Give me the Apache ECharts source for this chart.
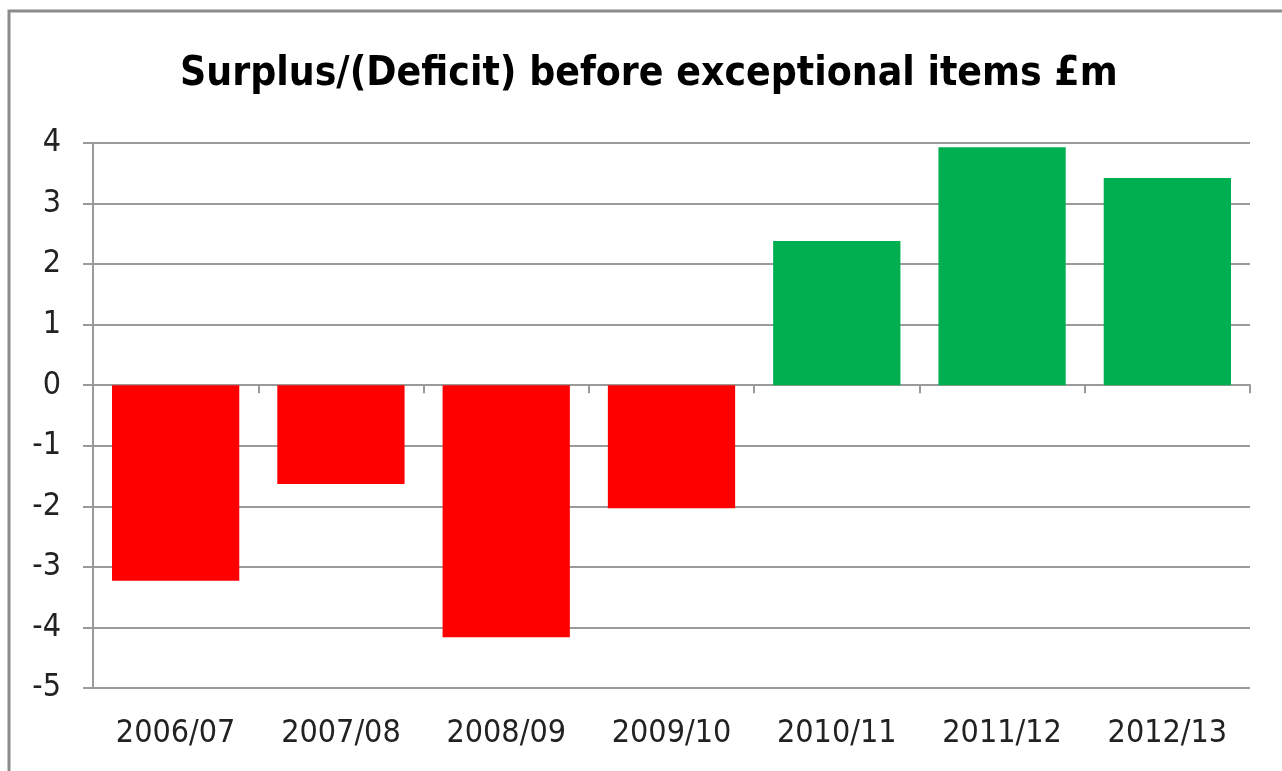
<!DOCTYPE html>
<html><head><meta charset="utf-8">
<script src="https://cdn.jsdelivr.net/npm/echarts@6/dist/echarts.min.js"></script>
<style>html,body{margin:0;padding:0;background:#fff}#c{width:1282px;height:771px}</style>
</head><body><div id="c"></div>
<script>
const titleText = 'Surplus/(Deficit) before exceptional items £m';
const categories = ['2006/07','2007/08','2008/09','2009/10','2010/11','2011/12','2012/13'];
const values = [-3.23, -1.63, -4.16, -2.03, 2.38, 3.93, 3.42];
const yMin = -5, yMax = 4, yStep = 1;
const posColor = '#00B050', negColor = '#FF0000';
const FONT = '"DejaVu Sans Condensed","DejaVu Sans",sans-serif';

const chart = echarts.init(document.getElementById('c'), null, {renderer:'canvas'});
chart.setOption({
  animation:false,
  backgroundColor:'#fff',
  graphic:[{type:'rect', shape:{x:9,y:11,width:1300,height:800}, style:{fill:'none', stroke:'#8c8c8c', lineWidth:3}, silent:true}],
  title:{text:titleText, left:175, top:49, textStyle:{fontFamily:FONT, fontWeight:'bold', fontSize:40.5, color:'#000'}},
  grid:{left:93, right:32, top:143, bottom:83, containLabel:false},
  xAxis:[{
    type:'category', data:categories,
    axisLine:{onZero:true, lineStyle:{color:'#9a9a9a', width:2}},
    axisTick:{show:true, length:8, lineStyle:{color:'#9a9a9a', width:2}},
    axisLabel:{show:false}, splitLine:{show:false}
  },{
    type:'category', data:categories, position:'bottom',
    axisLine:{show:false, onZero:false}, axisTick:{show:false},
    axisLabel:{show:true, margin:30, fontFamily:FONT, fontSize:32, color:'#222'}
  }],
  yAxis:{
    type:'value', min:yMin, max:yMax, interval:yStep,
    axisLine:{show:true, lineStyle:{color:'#9a9a9a', width:2}},
    axisTick:{show:true, length:10, lineStyle:{color:'#9a9a9a', width:2}},
    axisLabel:{margin:32, fontFamily:FONT, fontSize:32, color:'#222'},
    splitLine:{show:true, lineStyle:{color:'#9a9a9a', width:2}}
  },
  series:[{
    type:'bar', xAxisIndex:0, data:values.map(v=>({value:v, itemStyle:{color: v<0?negColor:posColor}})),
    barCategoryGap:'23%'
  }]
});
</script></body></html>
